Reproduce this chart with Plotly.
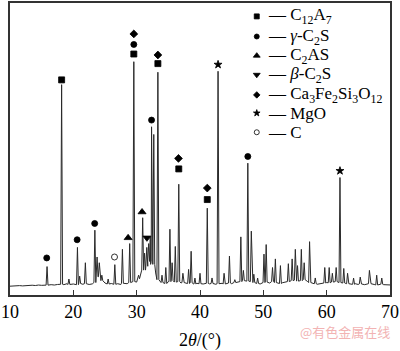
import numpy as np
import plotly.graph_objects as go

# ---------------- data ----------------
# background intensity sampled every 0.5 deg from 10 to 70 deg (2theta)
bg_counts = [
    92, 96, 94, 98, 95, 100, 97, 102, 99, 104,        # 10.0 - 14.5
    101, 106, 103, 108, 104, 110, 112, 108, 118, 110,  # 15.0 - 19.5
    115, 108, 120, 112, 118, 110, 116, 130, 190, 150,  # 20.0 - 24.5
    125, 115, 120, 112, 118, 110, 122, 118, 130, 140,  # 25.0 - 29.5
    135, 170, 260, 300, 350, 320, 230, 160, 130, 120,  # 30.0 - 34.5
    140, 150, 135, 140, 125, 130, 120, 128, 115, 122,  # 35.0 - 39.5
    118, 115, 122, 116, 120, 112, 118, 122, 115, 125,  # 40.0 - 44.5
    118, 130, 135, 140, 150, 145, 140, 130, 120, 115,  # 45.0 - 49.5
    130, 135, 125, 140, 130, 120, 128, 135, 140, 150,  # 50.0 - 54.5
    155, 145, 150, 160, 140, 130, 118, 112, 120, 125,  # 55.0 - 59.5
    130, 128, 135, 140, 130, 125, 120, 118, 112, 118,  # 60.0 - 64.5
    110, 115, 108, 112, 118, 110, 105, 112, 108, 110,  # 65.0 - 69.5
    105,                                               # 70.0
]

peak_2theta = [
    15.85, 18.15, 19.3, 20.65, 21.0, 21.9, 23.4, 23.75, 24.1, 24.5,
    25.5, 26.55, 27.75, 28.9, 29.55, 30.3, 30.95, 31.25, 31.6, 31.9,
    32.15, 32.35, 32.7, 33.35, 34.0, 34.6, 35.25, 35.6, 36.1, 36.65,
    37.3, 38.2, 38.6, 39.2, 40.0, 41.15, 41.9, 42.85, 43.8, 44.65,
    45.5, 46.45, 46.85, 47.55, 48.1, 48.5, 49.1, 50.1, 50.45, 51.45,
    51.9, 52.7, 53.95, 54.55, 55.05, 55.4, 56.0, 56.45, 57.3, 58.2,
    59.7, 60.4, 60.9, 61.5, 62.1, 62.7, 63.3, 64.25, 65.3, 66.75,
    67.9, 68.7,
]
peak_counts = [
    297, 2197, 167, 497, 197, 337, 677, 397, 337, 207,
    167, 317, 477, 537, 2437, 207, 807, 437, 497, 537,
    607, 1757, 1677, 2327, 207, 287, 687, 337, 507, 1157,
    227, 267, 457, 177, 227, 907, 178, 2337, 227, 407,
    160, 607, 257, 1377, 667, 217, 177, 427, 527, 287,
    377, 307, 327, 377, 477, 307, 477, 337, 557, 178,
    287, 287, 227, 287, 1227, 277, 227, 177, 187, 257,
    207, 177,
]

# phase markers (2theta, counts)
c12a7_x = [18.15, 29.55, 33.35, 36.65, 41.15]
c12a7_y = [2247, 2517, 2417, 1317, 997]
gc2s_x = [15.8, 20.6, 23.37, 29.55, 32.35, 47.55]
gc2s_y = [387, 577, 747, 2617, 1827, 1447]
c2as_x = [28.65, 30.85]
c2as_y = [597, 867]
bc2s_x = [31.62]
bc2s_y = [597]
garnet_x = [29.55, 33.35, 36.6, 41.15]
garnet_y = [2727, 2507, 1427, 1117]
mgo_x = [42.85, 62.1]
mgo_y = [2407, 1297]
carbon_x = [26.5]
carbon_y = [397]

legend_names = [
    "C<sub>12</sub>A<sub>7</sub>",
    "<i>γ</i>-C<sub>2</sub>S",
    "C<sub>2</sub>AS",
    "<i>β</i>-C<sub>2</sub>S",
    "Ca<sub>3</sub>Fe<sub>2</sub>Si<sub>3</sub>O<sub>12</sub>",
    "MgO",
    "C",
]

x_ticks = [10, 20, 30, 40, 50, 60, 70]

# ---------------- build the pattern polyline ----------------
bg_theta = np.linspace(10, 70, len(bg_counts))
HALF = 0.15
pts = []
for t, c in zip(bg_theta, bg_counts):
    if min(abs(t - p) for p in peak_2theta) > 0.2:
        pts.append((t, c))
for p, h in zip(peak_2theta, peak_counts):
    foot = bg_counts[int(round((p - 10) / 0.5))]
    pts += [(p - HALF, foot), (p, h), (p + HALF, foot)]
pts.sort()
xs = [a for a, _ in pts]
ys = [b for _, b in pts]

FONT = "Liberation Serif"
W, H = 400, 351
L, R, T, B = 7, 8, 1, 45

fig = go.Figure()
fig.add_trace(go.Scatter(x=xs, y=ys, mode="lines",
                         line=dict(color="#2a2a2a", width=1), showlegend=False))

symbols = ["square", "circle", "triangle-up", "triangle-down", "diamond", "star", "circle-open"]
sizes = [6, 6, 7, 7, 6, 6, 6]
series = [(c12a7_x, c12a7_y), (gc2s_x, gc2s_y), (c2as_x, c2as_y), (bc2s_x, bc2s_y),
          (garnet_x, garnet_y), (mgo_x, mgo_y), (carbon_x, carbon_y)]
for (sx, sy), sym, sz in zip(series, symbols, sizes):
    fig.add_trace(go.Scatter(x=sx, y=sy, mode="markers", showlegend=False,
                             marker=dict(symbol=sym, size=sz, color="black",
                                         line=dict(color="black", width=0.8))))

# legend: markers on an overlay axis in paper-like units, text as annotations
pw, ph = W - L - R, H - T - B
leg_mx = (257 - L) / pw
leg_tx = (266 - L) / pw
leg_rows = [15, 36, 56, 76, 97, 116, 136]
leg_py = [1 - (r - T) / ph for r in leg_rows]
leg_sizes = [5, 5, 6, 6, 5, 5, 5]
for sym, sz, yy in zip(symbols, leg_sizes, leg_py):
    fig.add_trace(go.Scatter(x=[leg_mx], y=[yy], mode="markers", showlegend=False,
                             xaxis="x2", yaxis="y2",
                             marker=dict(symbol=sym, size=sz, color="black",
                                         line=dict(color="black", width=0.8))))
annotations = []
for name, yy in zip(legend_names, leg_py):
    annotations.append(dict(x=leg_tx, y=yy, xref="paper", yref="paper",
                            xanchor="left", yanchor="middle", showarrow=False,
                            text="— " + name,
                            font=dict(family=FONT, size=17, color="black")))
annotations.append(dict(x=(W - 6 - L) / pw, y=-(344 - T - ph) / ph, xref="paper", yref="paper",
                        xanchor="right", yanchor="middle", showarrow=False,
                        text="@有色金属在线",
                        font=dict(family="Noto Sans CJK SC", size=13, color="#f2b3b3")))

fig.update_layout(
    width=W, height=H,
    margin=dict(l=L, r=R, t=T, b=B),
    paper_bgcolor="white", plot_bgcolor="white",
    font=dict(family=FONT, size=18, color="black"),
    xaxis=dict(range=[10, 70], tickvals=x_ticks, ticks="inside", ticklen=5,
               tickwidth=1.3, tickcolor="#333", showline=True, linewidth=1.5,
               linecolor="#333", mirror=True, showgrid=False, zeroline=False,
               ticklabeloverflow="allow",
               tickfont=dict(family=FONT, size=18, color="black"),
               title=dict(text="2<i>θ</i>/(°)", standoff=15,
                          font=dict(family=FONT, size=18, color="black"))),
    yaxis=dict(range=[0, 3050], showticklabels=False, ticks="", showline=True,
               linewidth=1.5, linecolor="#333", mirror=True, showgrid=False,
               zeroline=False),
    xaxis2=dict(overlaying="x", range=[0, 1], visible=False),
    yaxis2=dict(overlaying="y", range=[0, 1], visible=False),
    annotations=annotations,
)

fig.write_html("out.html")
